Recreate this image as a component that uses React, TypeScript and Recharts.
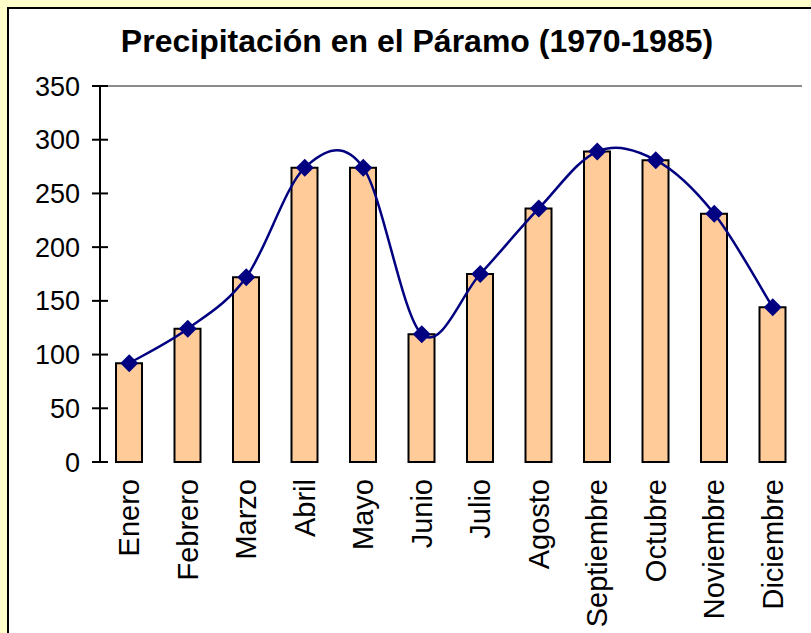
import React from "react";
import {
  ComposedChart,
  Bar,
  Line,
  XAxis,
  YAxis,
  ReferenceLine,
} from "recharts";

// precipitacion mensual media (mm)
const months = [
  "Enero",
  "Febrero",
  "Marzo",
  "Abril",
  "Mayo",
  "Junio",
  "Julio",
  "Agosto",
  "Septiembre",
  "Octubre",
  "Noviembre",
  "Diciembre",
];
const rainfall = [92, 124, 172, 274, 274, 119, 175, 236, 289, 281, 231, 144];
const yTicks = [0, 50, 100, 150, 200, 250, 300, 350];
// tick marks sit between the months, like in Excel
const boundaryTicks = [0, 1, 2, 3, 4, 5, 6, 7, 8, 9, 10, 11, 12];

const font = "'Liberation Sans', Arial, sans-serif";

// Excel-style smoothed line (Catmull-Rom as bezier segments)
const excelSmooth = (context: any) => {
  let pts: number[][] = [];
  return {
    areaStart() {},
    areaEnd() {},
    lineStart() {
      pts = [];
    },
    point(x: number, y: number) {
      pts.push([+x, +y]);
    },
    lineEnd() {
      if (!pts.length) return;
      context.moveTo(pts[0][0], pts[0][1]);
      for (let i = 0; i < pts.length - 1; i++) {
        const p0 = pts[i - 1] || pts[i];
        const p1 = pts[i];
        const p2 = pts[i + 1];
        const p3 = pts[i + 2] || p2;
        context.bezierCurveTo(
          p1[0] + (p2[0] - p0[0]) / 6,
          p1[1] + (p2[1] - p0[1]) / 6,
          p2[0] - (p3[0] - p1[0]) / 6,
          p2[1] - (p3[1] - p1[1]) / 6,
          p2[0],
          p2[1]
        );
      }
    },
  };
};

const Diamond = (props: any) => {
  const { cx, cy } = props;
  if (cx == null || cy == null) return null;
  const r = 9;
  return (
    <polygon
      points={`${cx},${cy - r} ${cx + r},${cy} ${cx},${cy + r} ${cx - r},${cy}`}
      fill="#000080"
    />
  );
};

const MonthTick = (props: any) => {
  const { x, y, payload } = props;
  return (
    <text
      x={x}
      y={y}
      transform={`rotate(-90, ${x}, ${y})`}
      textAnchor="end"
      dy="0.35em"
      fontSize={29}
      fontFamily={font}
      fill="#000"
    >
      {payload.value}
    </text>
  );
};

const NoLabel = () => <g />;

const App = () => {
  const data = months.map((month, i) => ({ month, rain: rainfall[i] }));

  return (
    <div
      style={{
        position: "absolute",
        left: 0,
        top: 0,
        width: 811,
        height: 633,
        background: "#FFFFCC",
        overflow: "hidden",
      }}
    >
      <div
        style={{
          position: "absolute",
          left: 7,
          top: 7,
          width: 840,
          height: 660,
          background: "#fff",
          border: "2px solid #000",
        }}
      />
      <div
        style={{
          position: "absolute",
          left: 0,
          top: 25,
          width: 834,
          textAlign: "center",
          fontFamily: font,
          fontWeight: "bold",
          fontSize: 32,
          lineHeight: "32px",
          color: "#000",
        }}
      >
        Precipitación en el Páramo (1970-1985)
      </div>
      <div style={{ position: "absolute", left: 0, top: 0 }}>
        <ComposedChart
          width={811}
          height={633}
          data={data}
          margin={{ top: 86, right: 9, left: 20, bottom: 0 }}
        >
          <XAxis
            xAxisId="b"
            type="number"
            domain={[0, 12]}
            ticks={boundaryTicks}
            height={0}
            tickSize={16}
            tick={NoLabel}
            axisLine={{ stroke: "#000", strokeWidth: 2 }}
            tickLine={{
              stroke: "#000",
              strokeWidth: 2,
              transform: "translate(0,-8)",
            }}
            allowDataOverflow
          />
          <XAxis
            dataKey="month"
            interval={0}
            height={171}
            tickSize={0}
            tickMargin={17}
            axisLine={false}
            tickLine={false}
            tick={<MonthTick />}
          />
          <YAxis
            domain={[0, 350]}
            ticks={yTicks}
            width={80}
            tickSize={16}
            tickMargin={4}
            axisLine={{ stroke: "#000", strokeWidth: 2 }}
            tickLine={{
              stroke: "#000",
              strokeWidth: 2,
              transform: "translate(8,0)",
            }}
            tick={{ fontSize: 27, fill: "#000", fontFamily: font }}
          />
          <ReferenceLine y={350} stroke="#8c8c8c" strokeWidth={2} />
          <ReferenceLine x={12} xAxisId="b" stroke="#8c8c8c" strokeWidth={2} />
          <Bar
            dataKey="rain"
            barSize={26}
            fill="#FFCC99"
            stroke="#000"
            strokeWidth={2}
            isAnimationActive={false}
          />
          <Line
            dataKey="rain"
            type={excelSmooth as any}
            stroke="#000080"
            strokeWidth={2.5}
            dot={<Diamond />}
            activeDot={false}
            isAnimationActive={false}
          />
        </ComposedChart>
      </div>
    </div>
  );
};

export default App;
